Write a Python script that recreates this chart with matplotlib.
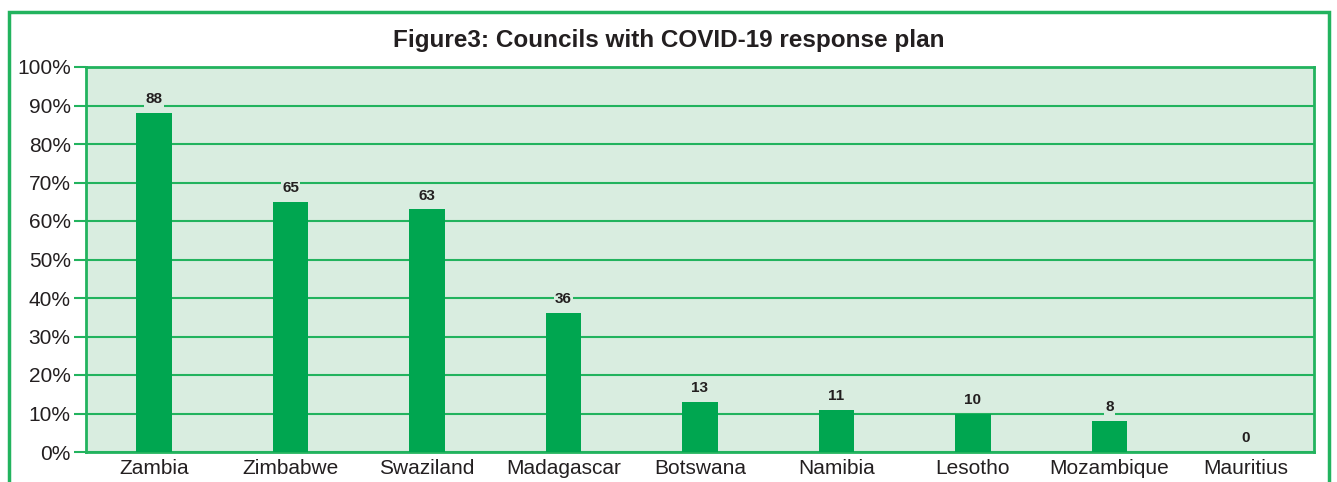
import matplotlib.pyplot as plt
import numpy as np
from matplotlib.patches import Rectangle

plt.rcParams['font.family'] = ['Liberation Sans', 'DejaVu Sans']

countries = ['Zambia', 'Zimbabwe', 'Swaziland', 'Madagascar', 'Botswana',
             'Namibia', 'Lesotho', 'Mozambique', 'Mauritius']
values = [88, 65, 63, 36, 13, 11, 10, 8, 0]
yticks = [0, 10, 20, 30, 40, 50, 60, 70, 80, 90, 100]

green = '#00a650'
line_green = '#22b35e'
panel = '#d9ede0'
ink = '#231f20'

fig = plt.figure(figsize=(13.37, 4.82), dpi=100)
fig.patch.set_facecolor('white')

# outer frame round the figure box (runs off the bottom edge)
frame = Rectangle((9 / 1337, -0.05), (1329 - 9) / 1337, 1 - 12 / 482 + 0.05,
                  transform=fig.transFigure, fill=False,
                  edgecolor=line_green, linewidth=2.5)
fig.patches.append(frame)

fig.text(0.5, 1 - 41 / 482, 'Figure3: Councils with COVID-19 response plan',
         ha='center', va='center', fontsize=17.5, fontweight='bold',
         color=ink)

ax = fig.add_axes([86 / 1337, 1 - 452 / 482, (1314 - 86) / 1337, (452 - 67) / 482])
ax.set_facecolor(panel)

x = np.arange(len(countries))
ax.bar(x, values, width=0.26, color=green, zorder=3)

for xi, v in zip(x, values):
    ax.text(xi, v + 1.8, str(v), ha='center', va='bottom', fontsize=11,
            fontweight='bold', color=ink, zorder=4,
            bbox=dict(facecolor=panel, edgecolor='none', pad=1.0))

ax.set_xlim(-0.5, len(countries) - 0.5)
ax.set_ylim(0, 100)
ax.set_yticks(yticks)
ax.set_yticklabels([f'{t}%' for t in yticks])
ax.set_xticks(x)
ax.set_xticklabels(countries)
ax.yaxis.grid(True, color=line_green, linewidth=1.5, zorder=1)
ax.set_axisbelow(True)

for s in ax.spines.values():
    s.set_color(line_green)
    s.set_linewidth(2)

ax.tick_params(axis='y', length=9, width=1.5, color=line_green,
               labelsize=15, labelcolor=ink, pad=2)
ax.tick_params(axis='x', length=0, labelsize=15, labelcolor=ink, pad=5)

plt.savefig('out.png', dpi=100)
